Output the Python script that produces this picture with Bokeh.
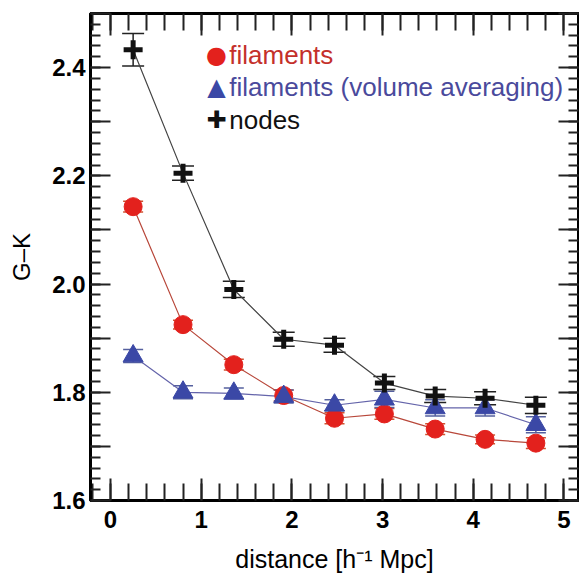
from bokeh.plotting import figure
from bokeh.models import (ColumnDataSource, Range1d, LinearAxis, SingleIntervalTicker,
                          CustomJSTickFormatter, Whisker, TeeHead, Label)
from bokeh.embed import file_html
from bokeh.resources import INLINE

# ---- data ----
distance = [0.25, 0.80, 1.36, 1.91, 2.47, 3.02, 3.58, 4.13, 4.69]
nodes = [2.433, 2.205, 1.990, 1.898, 1.887, 1.817, 1.793, 1.789, 1.776]
nodes_err = [0.030, 0.013, 0.015, 0.013, 0.013, 0.012, 0.012, 0.012, 0.015]
filaments = [2.143, 1.925, 1.851, 1.794, 1.752, 1.760, 1.732, 1.713, 1.706]
filaments_err = [0.010, 0.008, 0.010, 0.010, 0.010, 0.010, 0.010, 0.008, 0.010]
volume = [1.867, 1.800, 1.798, 1.792, 1.776, 1.787, 1.771, 1.771, 1.740]
volume_err = [0.012, 0.012, 0.010, 0.012, 0.010, 0.015, 0.015, 0.015, 0.015]

legend_labels = ["filaments", "filaments (volume averaging)", "nodes"]
x_label = "distance [h\u207b\u00b9 Mpc]"
y_label = "G\u2013K"

RED = "#e3211d"
RED_LINE = "#b8473a"
RED_TEXT = "#c4302b"
BLUE = "#3b48a6"
BLUE_LINE = "#6464aa"
BLUE_TEXT = "#4a4a9c"
BLACK = "#111111"

FONT = "Liberation Sans"

p = figure(width=579, height=583, output_backend="svg", toolbar_location=None,
           x_range=Range1d(-0.22, 5.16), y_range=Range1d(1.6, 2.5),
           min_border_left=90, min_border_right=1, min_border_top=13, min_border_bottom=83,
           x_axis_location=None, y_axis_location=None)
p.grid.visible = False
p.outline_line_color = "black"
p.outline_line_width = 3
p.background_fill_color = "white"
p.border_fill_color = "white"

BLANK = CustomJSTickFormatter(code="return '';")


def style_common(ax):
    ax.axis_line_width = 3
    ax.axis_line_color = "black"
    ax.major_tick_out = 0
    ax.minor_tick_out = 0
    ax.major_tick_line_color = "#222222"
    ax.minor_tick_line_color = "#222222"
    ax.major_tick_line_width = 2
    ax.minor_tick_line_width = 2
    ax.major_label_text_color = "black"
    ax.axis_label_text_color = "black"


def make_xaxis(labels):
    ax = LinearAxis(ticker=SingleIntervalTicker(interval=1, num_minor_ticks=5))
    style_common(ax)
    ax.major_tick_in = 22
    ax.minor_tick_in = 17
    if labels:
        ax.major_label_text_font = FONT
        ax.major_label_text_font_style = "bold"
        ax.major_label_text_font_size = "24px"
        ax.major_label_standoff = 10
        ax.axis_label = x_label
        ax.axis_label_text_font = FONT
        ax.axis_label_text_font_style = "normal"
        ax.axis_label_text_font_size = "25px"
        ax.axis_label_standoff = 14
    else:
        ax.formatter = BLANK
        ax.major_label_standoff = 0
    return ax


def make_yaxis(labels):
    ax = LinearAxis(ticker=SingleIntervalTicker(interval=0.1, num_minor_ticks=5))
    style_common(ax)
    ax.major_tick_in = 20
    ax.minor_tick_in = 10
    if labels:
        ax.formatter = CustomJSTickFormatter(
            code="return (Math.round(tick*10) % 2 == 0) ? tick.toFixed(1) : '';")
        ax.major_label_text_font = FONT
        ax.major_label_text_font_style = "bold"
        ax.major_label_text_font_size = "24px"
        ax.major_label_standoff = 5
        ax.axis_label = y_label
        ax.axis_label_text_font = FONT
        ax.axis_label_text_font_style = "normal"
        ax.axis_label_text_font_size = "24px"
        ax.axis_label_standoff = 14
    else:
        ax.formatter = BLANK
        ax.major_label_standoff = 0
    return ax


p.add_layout(make_xaxis(True), "below")
p.add_layout(make_xaxis(False), "above")
p.add_layout(make_yaxis(True), "left")
p.add_layout(make_yaxis(False), "right")

src = ColumnDataSource(dict(
    x=distance,
    nodes=nodes, n_lo=[v - e for v, e in zip(nodes, nodes_err)], n_hi=[v + e for v, e in zip(nodes, nodes_err)],
    fil=filaments, f_lo=[v - e for v, e in zip(filaments, filaments_err)], f_hi=[v + e for v, e in zip(filaments, filaments_err)],
    vol=volume, v_lo=[v - e for v, e in zip(volume, volume_err)], v_hi=[v + e for v, e in zip(volume, volume_err)],
))

# connecting lines
p.line("x", "nodes", source=src, line_color="#444444", line_width=1.2)
p.line("x", "fil", source=src, line_color=RED_LINE, line_width=1.2)
p.line("x", "vol", source=src, line_color=BLUE_LINE, line_width=1.2)


def add_err(lo, hi, color, size):
    w = Whisker(source=src, base="x", lower=lo, upper=hi, line_color=color, line_width=1.5,
                upper_head=TeeHead(size=size, line_color=color, line_width=1.5),
                lower_head=TeeHead(size=size, line_color=color, line_width=1.5))
    p.add_layout(w)


add_err("f_lo", "f_hi", "#d0502f", 20)
add_err("v_lo", "v_hi", "#55609e", 20)
add_err("n_lo", "n_hi", "#222222", 22)

p.scatter("x", "fil", source=src, marker="circle", size=18, fill_color=RED, line_color=RED)
p.scatter("x", "vol", source=src, marker="triangle", size=20, fill_color=BLUE, line_color=BLUE)
p.scatter("x", "nodes", source=src, marker="cross", size=19, line_color=BLACK, line_width=5)

# legend (text annotations)
legend_rows = [
    ("\u25cf", RED, 2.424, legend_labels[0], RED_TEXT),
    ("\u25b2", BLUE, 2.365, legend_labels[1], BLUE_TEXT),
    ("\u271a", BLACK, 2.304, legend_labels[2], BLACK),
]
for sym, scol, yy, txt, tcol in legend_rows:
    p.add_layout(Label(x=1.17, y=yy, text=sym, text_color=scol, text_font="DejaVu Sans",
                       text_font_size="24px", text_align="center", text_baseline="middle"))
    p.add_layout(Label(x=1.31, y=yy, text=txt, text_color=tcol, text_font=FONT,
                       text_font_size="26px", text_align="left", text_baseline="middle"))

open("out.html", "w").write(file_html(p, INLINE))
